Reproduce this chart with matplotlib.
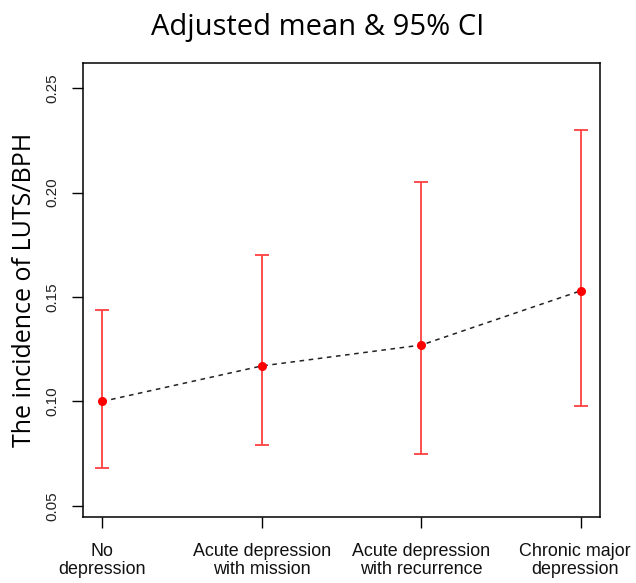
import numpy as np
import matplotlib
matplotlib.use('Agg')
import matplotlib.pyplot as plt
from matplotlib.transforms import ScaledTranslation

# Data
groups = ['No\ndepression', 'Acute depression\nwith mission',
          'Acute depression\nwith recurrence', 'Chronic major\ndepression']
mean = [0.100, 0.117, 0.127, 0.153]
ci_low = [0.068, 0.079, 0.075, 0.098]
ci_high = [0.144, 0.170, 0.205, 0.230]
yticks = [0.05, 0.10, 0.15, 0.20, 0.25]

x = np.arange(1, len(groups) + 1)
mean = np.array(mean)
err = np.vstack([mean - np.array(ci_low), np.array(ci_high) - mean])

fig = plt.figure(figsize=(6.36, 5.83), dpi=100)
ax = fig.add_axes([0.1305, 0.1132, 0.8129, 0.7787])

ax.plot(x, mean, color='#222222', ls=(0, (3, 3)), lw=1.1, zorder=2)
ax.errorbar(x, mean, yerr=err, fmt='none', ecolor='#ff4040', elinewidth=1.3,
            capsize=5, capthick=1.3, zorder=3)
ax.plot(x, mean, 'o', color='red', ms=5.5, zorder=4)

ax.set_xlim(0.88, 4.12)
ax.set_ylim(0.0447, 0.262)
ax.set_xticks(x)
ax.set_xticklabels(groups, fontsize=12.9, family='Liberation Sans', linespacing=1.05,
                   color='#111111')
ax.set_yticks(yticks)
ax.set_yticklabels(['%.2f' % v for v in yticks], rotation=90, va='center',
                   fontsize=11, family='Liberation Sans', color='#222222')
ax.tick_params(axis='y', length=8, width=1, pad=9)
ax.tick_params(axis='x', length=8, width=1, pad=11)
for s in ax.spines.values():
    s.set_linewidth(1.1)

# last label sits against the right edge in the reference
lab = ax.get_xticklabels()[-1]
lab.set_transform(lab.get_transform() + ScaledTranslation(-4 / 72, 0, fig.dpi_scale_trans))

ax.set_ylabel('The incidence of LUTS/BPH', fontsize=18, family='Open Sans', labelpad=6)
fig.text(0.5, 0.953, 'Adjusted mean & 95% CI', fontsize=21, family='Open Sans',
         ha='center', va='center')

fig.savefig('out.png', dpi=100)
